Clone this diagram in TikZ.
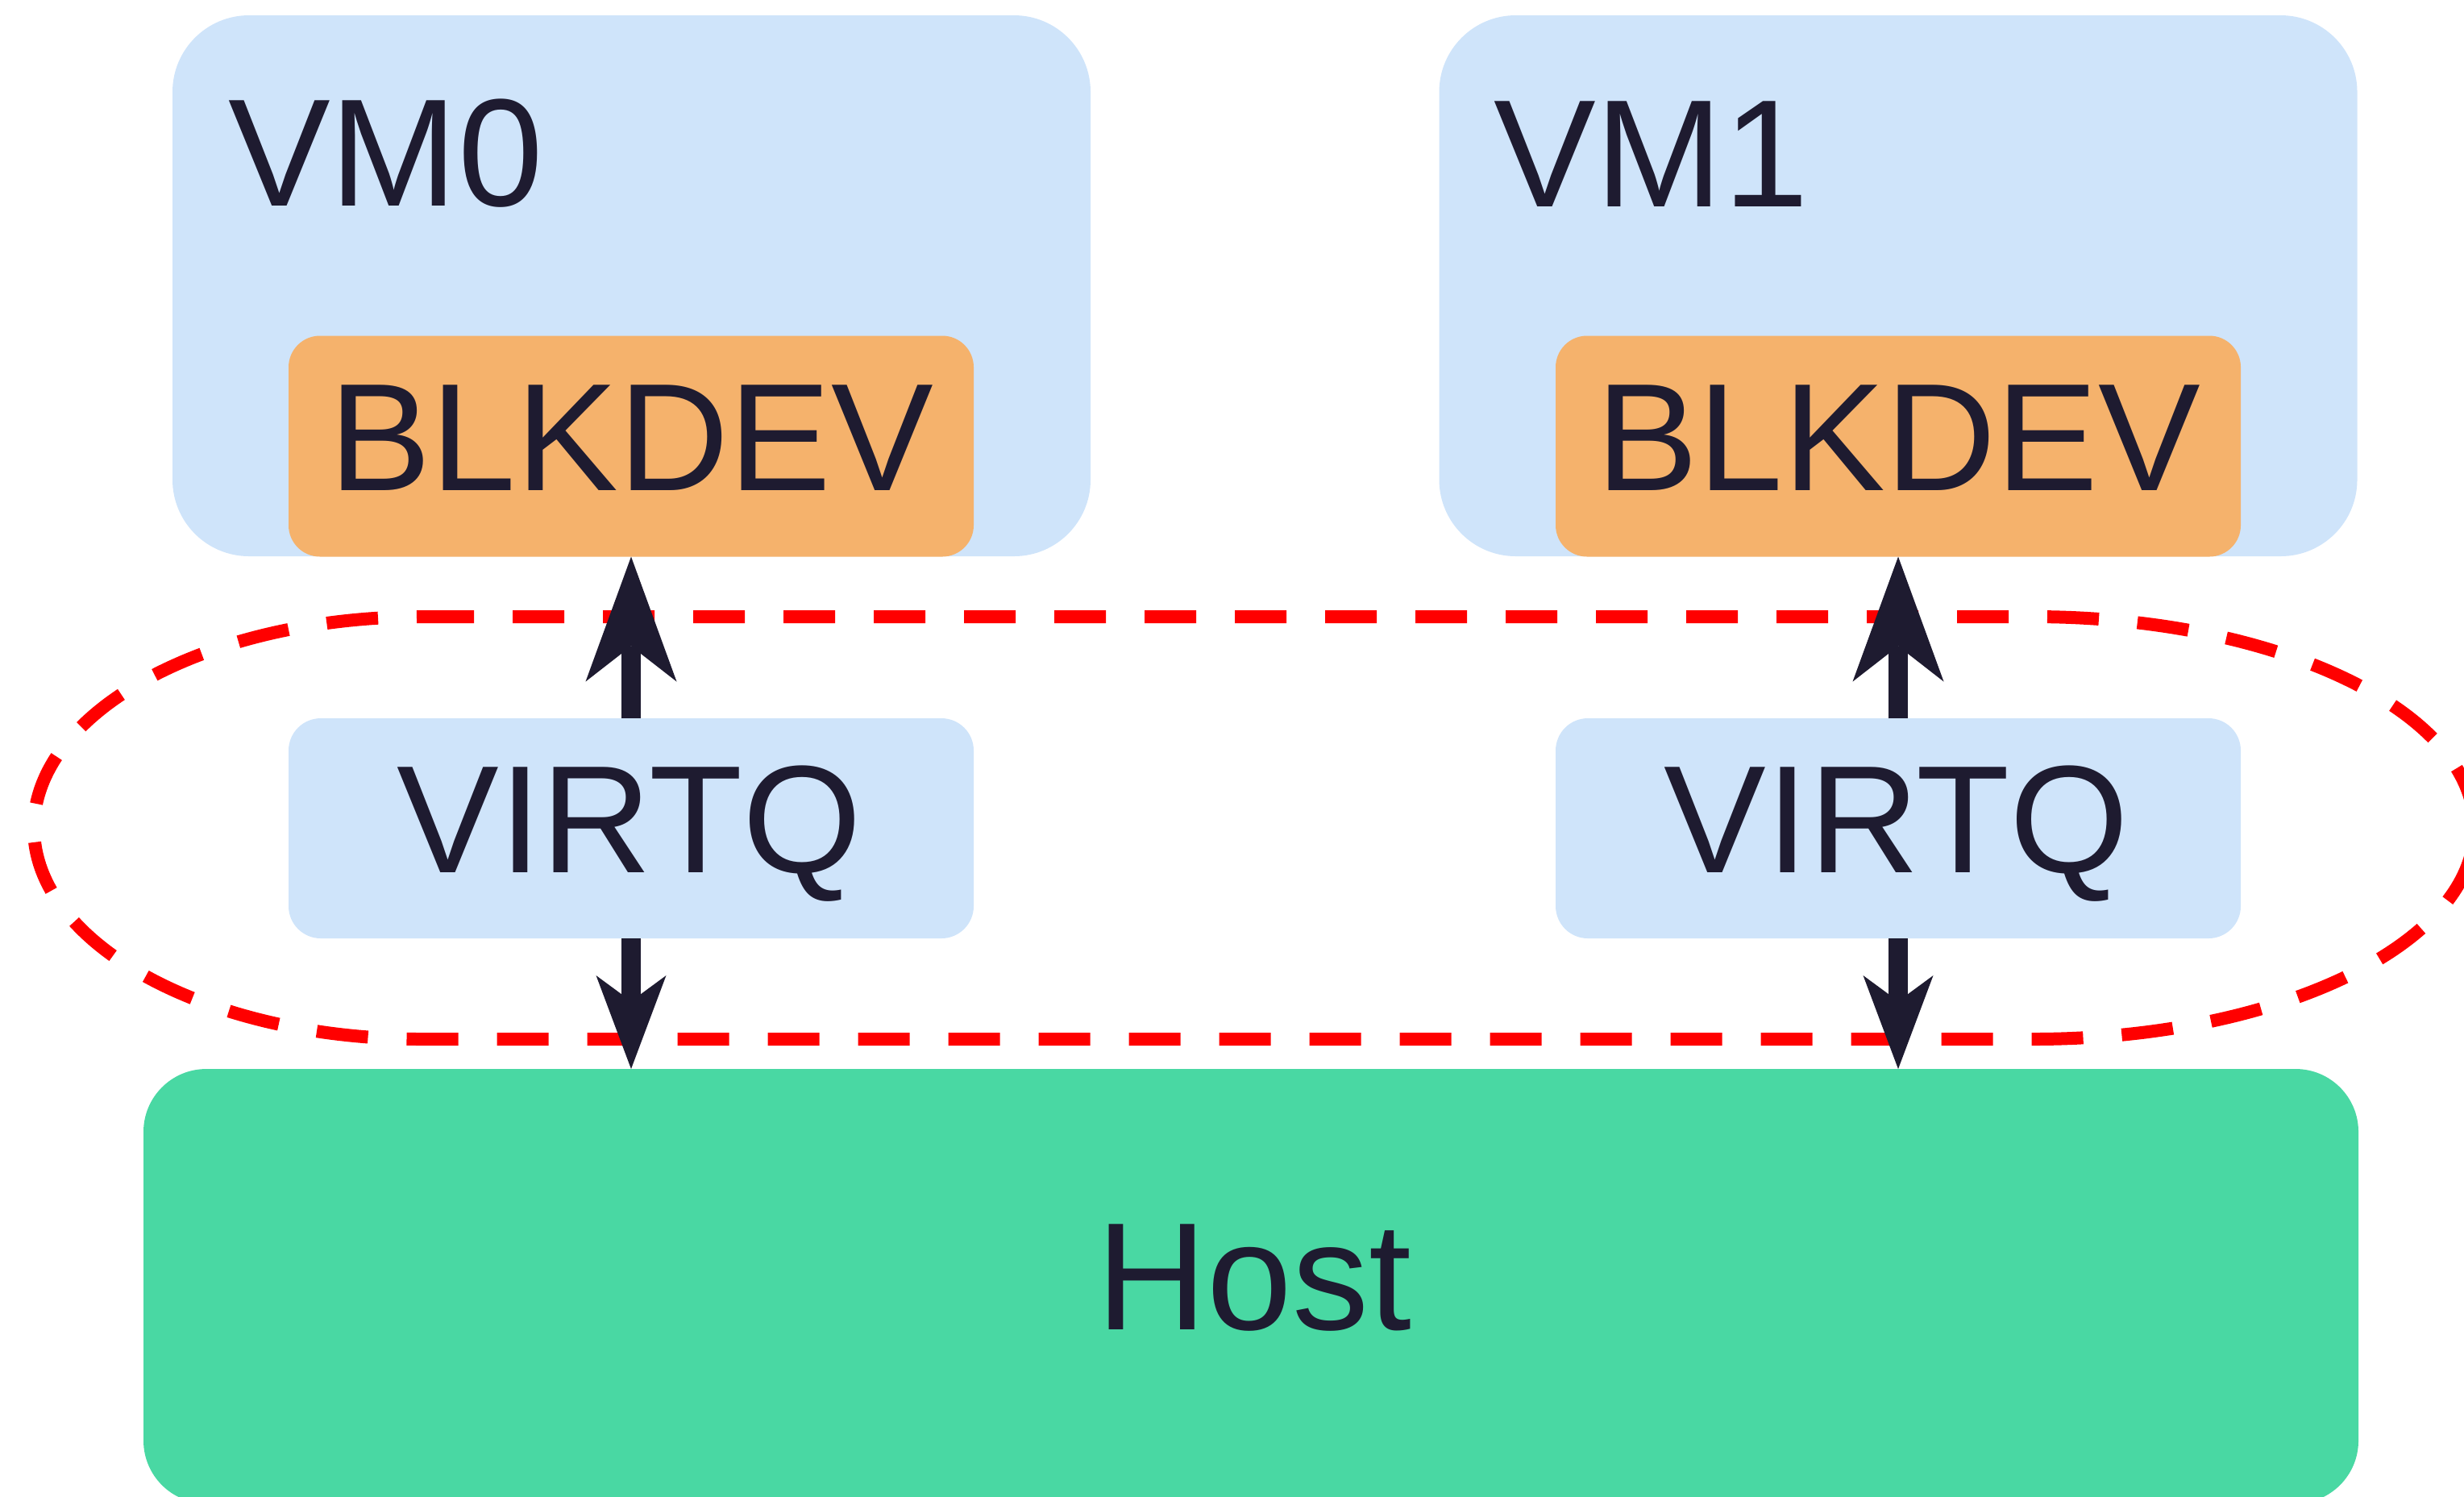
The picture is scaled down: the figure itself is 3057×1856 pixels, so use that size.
\documentclass[tikz,border=0pt]{standalone}
\usepackage{fontspec}
\setmainfont{Liberation Sans}
\usetikzlibrary{arrows.meta}

\definecolor{vmblue}{HTML}{CFE4FA}
\definecolor{blkorange}{HTML}{F5B26C}
\definecolor{hostgreen}{HTML}{49D8A3}
\definecolor{ink}{HTML}{1E1B30}
\definecolor{ringred}{HTML}{FF0000}

\begin{document}
\begin{tikzpicture}[
  x=0.25pt, y=-0.25pt,
  box/.style={rectangle, draw=none, inner sep=0pt, outer sep=0pt},
  vmbox/.style={box, fill=vmblue, minimum width=284.75pt, minimum height=167.75pt, rounded corners=23.75pt},
  blkbox/.style={box, fill=blkorange, minimum width=212.5pt, minimum height=68.5pt, rounded corners=9.75pt},
  vqbox/.style={box, fill=vmblue, minimum width=212.5pt, minimum height=68.25pt, rounded corners=10pt},
  hostbox/.style={box, fill=hostgreen, minimum width=687pt, minimum height=134.75pt, rounded corners=19.5pt},
  lbl/.style={inner sep=0pt, outer sep=0pt, text=ink, font=\fontsize{47.5pt}{57pt}\selectfont},
  ring/.style={draw=ringred, line width=4pt, dash pattern=on 16pt off 12pt},
  upconn/.style={draw=ink, line width=6pt,
    -{Stealth[length=38.75pt, width=28.25pt, inset=11pt, line width=0pt]}},
  downconn/.style={draw=ink, line width=6pt,
    -{Stealth[length=29pt, width=21.75pt, inset=8pt, line width=0pt]}}
]
\useasboundingbox (0,0) rectangle (3057,1856);

% virtual machines
\node[vmbox] (vm0) at (783.5,354.5) {};
\node[vmbox] (vm1) at (2355,354.5) {};
\node[lbl, anchor=base west] (vm0t) at (283,255) {VM0};
\node[lbl, anchor=base west] (vm1t) at (1853,256) {VM1};

% block devices inside the guests
\node[blkbox] (blk0) at (783,553.5) {};
\node[blkbox] (blk1) at (2355,553.5) {};
\node[lbl, anchor=base] (blk0t) at (783,608) {BLKDEV};
\node[lbl, anchor=base] (blk1t) at (2355,608) {BLKDEV};

% shared virtqueue region
\draw[ring] (524,765) -- (2522,765)
  arc[start angle=90, end angle=-90, x radius=137pt, y radius=65.5pt]
  -- (524,1289)
  arc[start angle=-90, end angle=-270, x radius=120.5pt, y radius=65.5pt]
  -- cycle;

% virtqueues
\node[vqbox] (vq0) at (783,1027.5) {};
\node[vqbox] (vq1) at (2355,1027.5) {};
\node[lbl, anchor=base] (vq0t) at (781,1082) {VIRTQ};
\node[lbl, anchor=base] (vq1t) at (2353,1082) {VIRTQ};

% host
\node[hostbox] (host) at (1552,1595.5) {};
\node[lbl, anchor=base] (hostt) at (1556,1649) {Host};

% data paths
\draw[upconn] (vq0.north) -- (blk0.south);
\draw[upconn] (vq1.north) -- (blk1.south);
\draw[downconn] (vq0.south) -- (vq0.south |- host.north);
\draw[downconn] (vq1.south) -- (vq1.south |- host.north);
\end{tikzpicture}
\end{document}
